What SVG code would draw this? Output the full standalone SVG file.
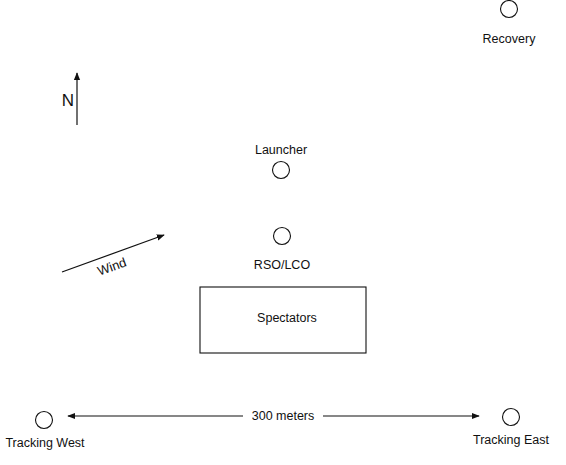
<svg xmlns="http://www.w3.org/2000/svg" width="566" height="465" viewBox="0 0 566 465">
<style>
text{font-family:"Liberation Sans",Arial,sans-serif;font-size:12.5px;fill:#111;text-anchor:middle}
.c{fill:none;stroke:#111;stroke-width:1.1}
.l{stroke:#111;stroke-width:1.2;fill:none}
</style>
<defs>
<marker id="a" viewBox="0 0 10 10" refX="9" refY="5" markerWidth="8" markerHeight="8" markerUnits="userSpaceOnUse" orient="auto-start-reverse">
<path d="M0,1 L10,5 L0,9 Z" fill="#111"/>
</marker>
</defs>
<rect width="566" height="465" fill="#fff"/>
<g id="connectors">
<line class="l" x1="77" y1="125" x2="77" y2="73" marker-end="url(#a)"/>
<line class="l" x1="62" y1="272" x2="164" y2="235" marker-end="url(#a)"/>
<line class="l" x1="243" y1="416" x2="68" y2="416" marker-end="url(#a)"/>
<line class="l" x1="323" y1="416" x2="479" y2="416" marker-end="url(#a)"/>
</g>
<g id="north"><text x="68" y="106" style="font-size:17px">N</text></g>
<g id="wind"><text x="112" y="271" transform="rotate(-20 112 267)" style="font-size:13px">Wind</text></g>
<g id="distance"><text x="283" y="420">300 meters</text></g>
<g id="recovery"><circle class="c" cx="509" cy="9" r="8.5"/><text x="509" y="43">Recovery</text></g>
<g id="launcher"><text x="281" y="154">Launcher</text><circle class="c" cx="281" cy="170" r="8.5"/></g>
<g id="rso"><circle class="c" cx="282" cy="236" r="8.5"/><text x="282" y="269">RSO/LCO</text></g>
<g id="spectators"><rect class="c" x="200" y="287" width="166" height="66"/><text x="287" y="322">Spectators</text></g>
<g id="tracking-west"><circle class="c" cx="44" cy="420" r="8.5"/><text x="45" y="447">Tracking West</text></g>
<g id="tracking-east"><circle class="c" cx="511" cy="417" r="8.5"/><text x="511" y="444">Tracking East</text></g>
</svg>
